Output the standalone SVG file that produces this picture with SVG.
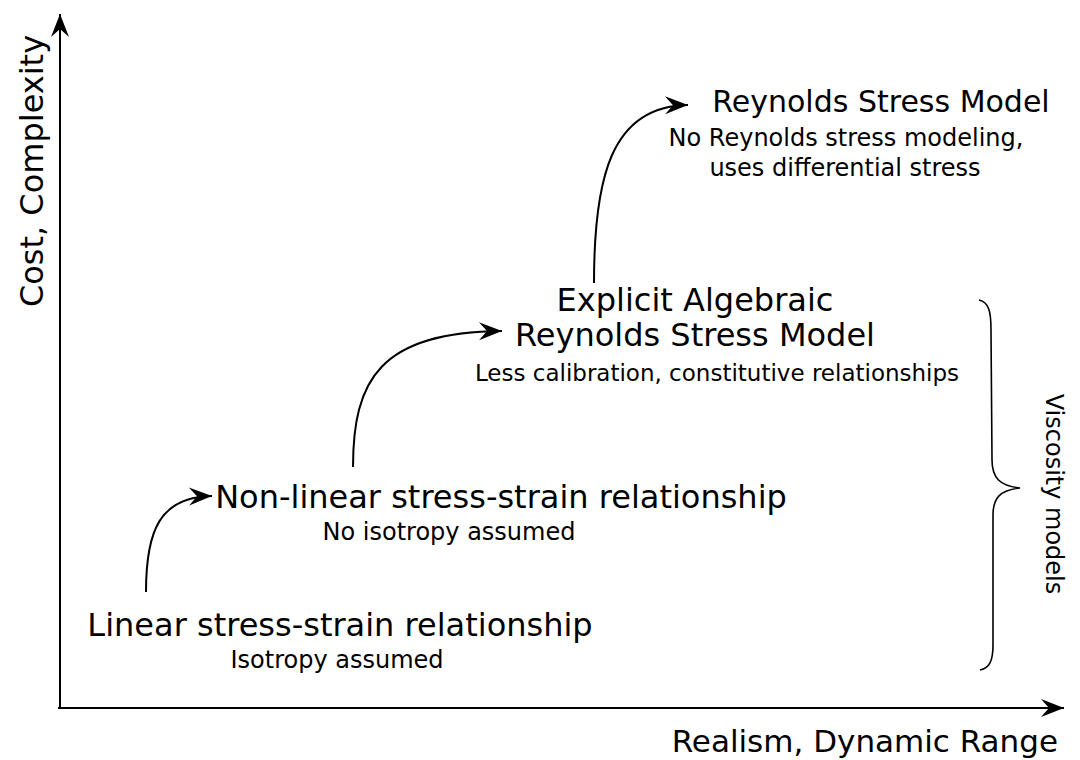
<svg xmlns="http://www.w3.org/2000/svg" width="1080" height="760" viewBox="0 0 1080 760">
<defs>
<style>
text{font-family:"DejaVu Sans","Liberation Sans",sans-serif;fill:#000}
.big{font-size:32px;text-anchor:middle}
.small{font-size:24px;text-anchor:middle}
.axis{font-size:32px}
.ln{fill:none;stroke:#000;stroke-width:2}
</style>
<marker id="ah" markerUnits="userSpaceOnUse" markerWidth="30" markerHeight="22" viewBox="-25 -11 27 22" refX="0" refY="0" orient="auto">
<path d="M0,0 L-23,-9 L-15,0 L-23,9 Z" fill="#000"/>
</marker>
</defs>
<rect width="1080" height="760" fill="#fff"/>
<g id="axes">
<path class="ln" d="M60,709 L60,14" marker-end="url(#ah)"/>
<path class="ln" d="M58,708 L1064,708" marker-end="url(#ah)"/>
<text class="axis" transform="translate(43,171) rotate(-90)" text-anchor="middle">Cost, Complexity</text>
<text class="axis" x="1058" y="752" text-anchor="end" style="font-size:31px">Realism, Dynamic Range</text>
</g>
<g id="connectors">
<path class="ln" d="M146,592 C146,530 160,497 212,496" marker-end="url(#ah)"/>
<path class="ln" d="M353,467 C353,380 380,332 502,331" marker-end="url(#ah)"/>
<path class="ln" d="M594,283 C594,180 610,106 688,105" marker-end="url(#ah)"/>
</g>
<g id="node-linear">
<text class="big" x="340" y="636">Linear stress-strain relationship</text>
<text class="small" x="337" y="668">Isotropy assumed</text>
</g>
<g id="node-nonlinear">
<text class="big" x="501" y="508">Non-linear stress-strain relationship</text>
<text class="small" x="449" y="540">No isotropy assumed</text>
</g>
<g id="node-earsm">
<text class="big" x="695" y="311">Explicit Algebraic</text>
<text class="big" x="695" y="346">Reynolds Stress Model</text>
<text class="small" x="717" y="381" style="font-size:23px">Less calibration, constitutive relationships</text>
</g>
<g id="node-rsm">
<text class="big" x="881" y="112" style="font-size:30px">Reynolds Stress Model</text>
<text class="small" x="846" y="146">No Reynolds stress modeling,</text>
<text class="small" x="845" y="176">uses differential stress</text>
</g>
<g id="brace">
<path class="ln" style="stroke-width:1.6" d="M979,300 C989,302 991,312 991,330 L992,460 C992,478 1000,486 1020,488 C1000,490 993,498 993,515 L993,645 C993,660 990,668 980,670"/>
<text class="small" transform="translate(1046,494) rotate(90)">Viscosity models</text>
</g>
</svg>
